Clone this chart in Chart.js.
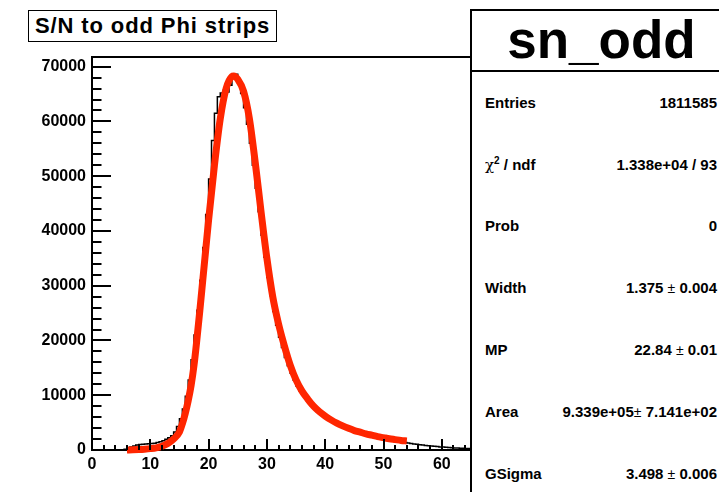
<!DOCTYPE html>
<html>
<head>
<meta charset="utf-8">
<script src="https://cdn.jsdelivr.net/npm/chart.js@4.4.1/dist/chart.umd.min.js"></script>
<style>
  html, body { margin: 0; padding: 0; background: #fff; }
  #wrap { position: relative; width: 719px; height: 492px; overflow: hidden;
          font-family: 'Liberation Sans', Arial, Helvetica, sans-serif; color: #000; }
  #plot { position: absolute; left: 0; top: 0; }
  .title { position: absolute; left: 28px; top: 10px; width: 249px; height: 32px; box-sizing: border-box;
           border: 1.5px solid #000; background: #fff; font-weight: bold; font-size: 22px;
           letter-spacing: 0.9px; line-height: 29px; text-align: center; white-space: nowrap; }
  .stats { position: absolute; left: 470px; top: 9px; width: 300px; height: 520px; box-sizing: border-box;
           border: 2px solid #000; background: #fff; }
  .head { position: absolute; left: 470px; top: 13px; width: 263px; text-align: center;
          font-size: 53px; font-weight: bold; line-height: 53px; }
  .sep { position: absolute; left: 470px; top: 70px; width: 260px; height: 1.5px; background: #000; }
  .row { position: absolute; left: 485px; width: 232px; height: 20px; line-height: 20px;
         font-size: 15px; font-weight: bold; white-space: nowrap; }
  .row .v { position: absolute; right: 0; top: 0; }
  .pm { font-weight: normal; font-size: 14px; }
  .chi { font-weight: normal; font-family: 'DejaVu Serif', serif; font-size: 15px; }
  sup { font-size: 10px; line-height: 0; }
</style>
</head>
<body>
<div id="wrap">
  <canvas id="plot" width="719" height="492"></canvas>
  <div class="title">S/N to odd Phi strips</div>
  <div class="stats"></div>
  <div class="head">sn_odd</div>
  <div class="sep"></div>
  <div class="row" style="top:93px">Entries<span class="v">1811585</span></div>
  <div class="row" style="top:155px"><span class="chi">χ</span><sup>2</sup> / ndf<span class="v">1.338e+04 / 93</span></div>
  <div class="row" style="top:216px">Prob<span class="v">0</span></div>
  <div class="row" style="top:278px">Width<span class="v">1.375 <span class="pm">±</span> 0.004</span></div>
  <div class="row" style="top:340px">MP<span class="v">22.84 <span class="pm">±</span> 0.01</span></div>
  <div class="row" style="top:402px">Area<span class="v">9.339e+05<span class="pm">±</span> 7.141e+02</span></div>
  <div class="row" style="top:464px">GSigma<span class="v">3.498 <span class="pm">±</span> 0.006</span></div>
</div>
<script>
// histogram: bins of width 0.5 starting at 5.0
const binLow = 5.0;
const binWidth = 0.5;
const counts = [
  0, 0, 150, 350, 550, 750, 900, 1000, 1050, 1100,
  1150, 1200, 1250, 1350, 1500, 1700, 1950, 2250, 2600, 3300,
  4300, 5700, 7500, 9800, 12800, 16500, 21000, 25500, 31000, 37000,
  43000, 49500, 56500, 61500, 64500, 65200, 65700, 65400, 66600, 68600,
  68600, 67500, 65100, 62500, 59500, 56000, 52000, 47800, 43500, 39200,
  35200, 31500, 28200, 25300, 22800, 20600, 18700, 16900, 15400, 14000,
  12800, 11700, 10800, 10000, 9300, 8600, 8000, 7500, 7000, 6550,
  6150, 5800, 5450, 5150, 4850, 4600, 4350, 4100, 3900, 3700,
  3500, 3350, 3200, 3050, 2900, 2750, 2650, 2500, 2400, 2300,
  2150, 2050, 1950, 1850, 1750, 1650, 1550, 1450, 1360, 1270,
  1190, 1110, 1040, 970, 900, 840, 780, 720, 670, 620,
  570, 530, 490, 450, 410, 380, 350, 320, 300, 280,
  260, 240, 225, 210
];

// Landau (x) Gauss fit curve
const fitX = [6, 7, 8, 9, 10, 11, 12, 13, 14, 15, 15.5, 16, 16.5, 17, 17.5, 18, 18.5, 19, 19.5, 20,
  21, 22, 23, 24, 24.3, 25, 26, 27, 28, 29, 30, 31, 32, 33, 34, 35, 36, 37, 38, 39,
  40, 41, 42, 43, 44, 45, 46, 47, 48, 49, 50, 51, 52, 53, 54];
const fitY = [0, 30, 80, 150, 250, 400, 700, 1200, 2000, 3300, 4800, 6700, 9000, 11800, 15500, 20300, 25500, 31000, 36500, 42000,
  52000, 60500, 66000, 68200, 68300, 67700, 65500, 60500, 52500, 43500, 35000, 28000, 23000, 19000, 15500, 12800, 10800, 9300, 8000, 7000,
  6200, 5500, 4900, 4400, 3950, 3550, 3250, 2950, 2700, 2450, 2250, 2050, 1900, 1750, 1650];

const xRange = [0, 100];
const yRange = [0, 71770];
const xTicks = [0, 10, 20, 30, 40, 50, 60, 70, 80, 90, 100];
const yTicks = [0, 10000, 20000, 30000, 40000, 50000, 60000, 70000];

const histPoints = counts.map((c, i) => ({ x: binLow + i * binWidth, y: c }));
histPoints.push({ x: binLow + counts.length * binWidth, y: counts[counts.length - 1] });

const fitPoints = fitX.map((x, i) => ({ x: x, y: fitY[i] }));

const tickFont = { family: "'Liberation Sans', Arial, sans-serif", size: 16, weight: 'bold' };

// ROOT style frame: top line plus inward major/minor ticks
const frameTicks = {
  id: 'frameTicks',
  afterDatasetsDraw(chart) {
    const { ctx, chartArea: a, scales } = chart;
    ctx.save();
    ctx.strokeStyle = '#000';
    ctx.lineWidth = 2;
    ctx.beginPath();
    ctx.moveTo(a.left - 1, a.top);
    ctx.lineTo(a.right, a.top);
    for (let v = 0; v <= yRange[1]; v += 2000) {
      const y = Math.round(scales.y.getPixelForValue(v));
      const len = v % 10000 === 0 ? 19 : 9.5;
      ctx.moveTo(a.left, y);
      ctx.lineTo(a.left + len, y);
    }
    for (let v = xRange[0]; v <= xRange[1]; v += 2) {
      const x = Math.round(scales.x.getPixelForValue(v));
      const len = v % 10 === 0 ? 11 : 5;
      ctx.moveTo(x, a.bottom);
      ctx.lineTo(x, a.bottom - len);
    }
    ctx.stroke();
    ctx.restore();
  }
};

new Chart(document.getElementById('plot'), {
  type: 'line',
  data: {
    datasets: [
      {
        label: 'fit',
        data: fitPoints,
        borderColor: '#ff2600',
        borderWidth: 7,
        pointRadius: 0,
        cubicInterpolationMode: 'monotone',
        clip: 10,
        order: 0
      },
      {
        label: 'sn_odd',
        data: histPoints,
        borderColor: '#000',
        borderWidth: 1.5,
        pointRadius: 0,
        stepped: 'after',
        order: 1
      }
    ]
  },
  options: {
    responsive: false,
    animation: false,
    layout: { padding: { left: 0, top: 57, right: 44, bottom: 0 } },
    plugins: { legend: { display: false }, tooltip: { enabled: false } },
    scales: {
      x: {
        type: 'linear',
        min: xRange[0],
        max: xRange[1],
        afterBuildTicks: s => { s.ticks = xTicks.map(v => ({ value: v })); },
        afterFit: s => { s.height = 42; },
        grid: { display: false, drawTicks: false },
        border: { display: true, color: '#000', width: 2 },
        ticks: { color: '#000', font: tickFont, padding: 5, autoSkip: false, maxRotation: 0,
                 callback: v => String(v) }
      },
      y: {
        type: 'linear',
        min: yRange[0],
        max: yRange[1],
        afterBuildTicks: s => { s.ticks = yTicks.map(v => ({ value: v })); },
        afterFit: s => { s.width = 92; },
        grid: { display: false, drawTicks: false },
        border: { display: true, color: '#000', width: 2 },
        ticks: { color: '#000', font: tickFont, padding: 6, autoSkip: false,
                 callback: v => String(v) }
      }
    }
  },
  plugins: [frameTicks]
});
</script>
</body>
</html>
